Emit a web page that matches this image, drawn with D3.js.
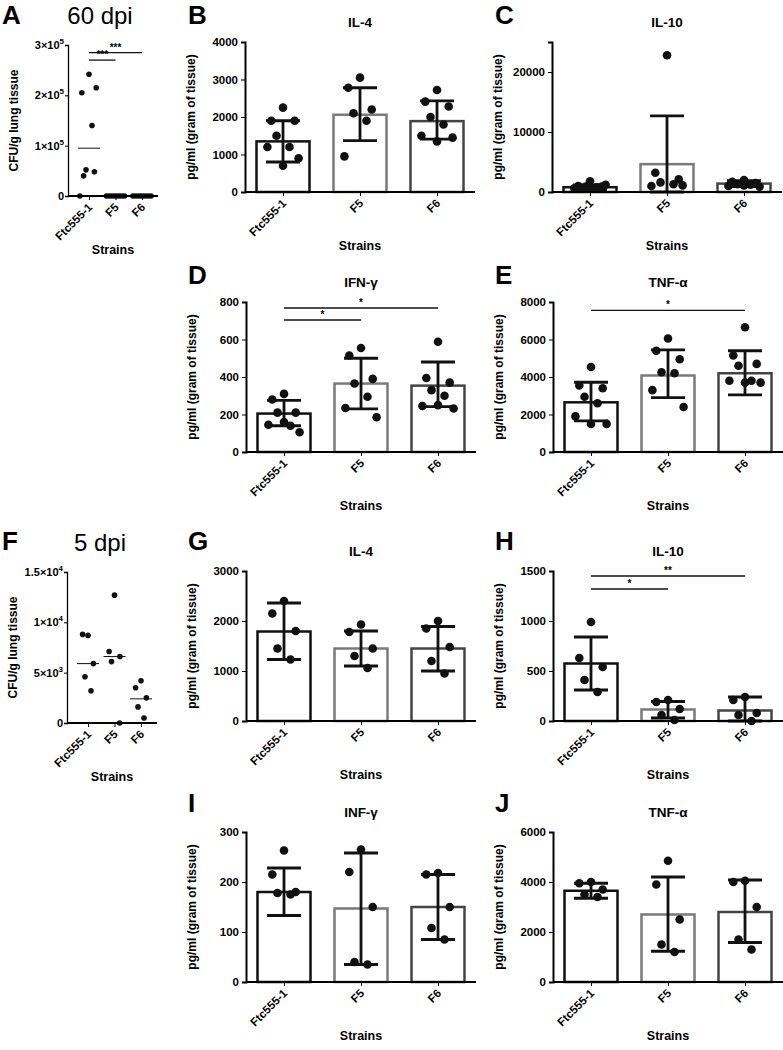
<!DOCTYPE html>
<html>
<head>
<meta charset="utf-8">
<script src="https://cdn.jsdelivr.net/npm/d3@7"></script>
<style>
  body { margin: 0; background: #fff; }
  text { font-family: "Liberation Sans", Arial, sans-serif; }
</style>
</head>
<body>
<div id="chart"></div>
<script>
const strains = ["Ftc555-1", "F5", "F6"];

// 60 dpi
const cfu60 = [
  [0, 40000, 48000, 52000, 140000, 205000, 215000, 242000],
  [0, 0, 0, 0, 0, 0, 0, 0],
  [0, 0, 0, 0, 0, 0, 0, 0]
];
const cfu60Line = [95000, 0, 0];
const il4_60 = [[2250, 1900, 1900, 1500, 1200, 1200, 900, 700], [3050, 2780, 2200, 2100, 1900, 950], [2720, 2410, 2280, 2000, 1800, 1500, 1450, 1350]];
const il4_60Mean = [1350, 2060, 1890];
const il4_60Sd = [[800, 1900], [1370, 2780], [1410, 2430]];
const il10_60 = [[1800, 1000, 900, 700, 800, 600, 1200, 700, 900], [22800, 3200, 2100, 1600, 1300, 1000, 1100], [2000, 1700, 1500, 1300, 1200, 1000, 900, 1100]];
const il10_60Mean = [800, 4640, 1400];
const il10_60Sd = [[400, 1200], [0, 12700], [900, 1900]];
const ifn_60 = [[310, 280, 210, 210, 140, 145, 105, 160], [555, 515, 390, 365, 295, 235, 185], [588, 395, 370, 330, 300, 245, 232, 250]];
const ifn_60Mean = [205, 365, 354];
const ifn_60Sd = [[140, 275], [230, 500], [242, 480]];
const tnf_60 = [[4530, 3550, 3400, 2950, 2600, 1900, 1500, 1500], [6050, 5400, 4950, 4250, 4200, 3300, 2400], [6650, 5150, 4700, 4600, 3800, 3800, 3700, 3700]];
const tnf_60Mean = [2650, 4080, 4200];
const tnf_60Sd = [[1660, 3720], [2900, 5450], [3050, 5400]];

// 5 dpi
const cfu5 = [[8700, 8800, 5900, 4600, 3200], [12700, 7100, 6600, 6100, 0], [4200, 3500, 2500, 1600, 500]];
const cfu5Line = [5900, 6600, 2400];
const il4_5 = [[2400, 2150, 1800, 1450, 1230], [1930, 1780, 1450, 1300, 1060], [2000, 1850, 1480, 1200, 950]];
const il4_5Mean = [1790, 1450, 1450];
const il4_5Sd = [[1230, 2360], [1100, 1800], [1000, 1890]];
const il10_5 = [[990, 630, 540, 410, 290], [210, 190, 120, 60, 10], [240, 210, 80, 60, 0]];
const il10_5Mean = [575, 115, 105];
const il10_5Sd = [[310, 840], [30, 195], [0, 240]];
const inf_5 = [[263, 215, 180, 178, 175], [265, 220, 150, 40, 35], [218, 215, 150, 108, 85]];
const inf_5Mean = [180, 147, 150];
const inf_5Sd = [[133, 228], [35, 258], [85, 215]];
const tnf_5 = [[4000, 3950, 3700, 3500, 3400], [4850, 3900, 2500, 1500, 1200], [4050, 4000, 3000, 1700, 1300]];
const tnf_5Mean = [3650, 2700, 2800];
const tnf_5Sd = [[3350, 3950], [1230, 4200], [1580, 4080]];

const svg = d3.select("#chart").append("svg").attr("width", 783).attr("height", 1050);
const strokes = ["#111", "#7a7a7a", "#444"];
const jit = [0, -9, 9, -5, 5, -12, 12, 0, -3];

function sup(t, base, exp) {
  if (exp == null) { t.text(base); return; }
  t.append("tspan").text(base);
  t.append("tspan").attr("dy", -5).style("font-size", "8px").text(exp);
}

function letter(x, y, s) {
  svg.append("text").attr("x", x).attr("y", y).style("font-size", "26px")
    .style("font-weight", "bold").text(s);
}

function frame(g, x, y, zeroY, yLabel, xEnd) {
  const ax = +g.attr("data-ax");
  g.append("g").attr("transform", `translate(0,${zeroY})`)
    .call(d3.axisBottom(x).tickSize(4).tickFormat(""))
    .call(a => a.select(".domain").attr("d", `M${ax},0H${xEnd}`).attr("stroke-width", 2));
  g.append("text").attr("text-anchor", "middle")
    .attr("transform", `translate(${ax - 50},${(zeroY + y.range()[1]) / 2}) rotate(-90)`)
    .style("font-size", "12px").style("font-weight", "bold").text(yLabel);
  strains.forEach(s => {
    g.append("text").attr("text-anchor", "end")
      .attr("transform", `translate(${x(s) + 4},${zeroY + 12}) rotate(-45)`)
      .style("font-size", "11.5px").style("font-weight", "bold").text(s);
  });
  g.append("text").attr("x", (ax + xEnd) / 2).attr("y", zeroY + 58)
    .attr("text-anchor", "middle").style("font-size", "12.5px").style("font-weight", "bold").text("Strains");
}

function sig(g, x, y, a, b, v, label) {
  g.append("line").attr("x1", x(strains[a])).attr("x2", x(strains[b]))
    .attr("y1", y(v)).attr("y2", y(v)).attr("stroke", "#111").attr("stroke-width", 1.3);
  g.append("text").attr("x", (x(strains[a]) + x(strains[b])) / 2).attr("y", y(v) - 2)
    .attr("text-anchor", "middle").style("font-size", "10px").style("font-weight", "bold").text(label);
}

function barPanel(ax, zeroY, title, max, step, pts, means, sds, sigs) {
  const g = svg.append("g").attr("data-ax", ax);
  const y = d3.scaleLinear().domain([0, max]).range([zeroY, zeroY - 150]);
  const x = d3.scalePoint().domain(strains).range([ax + 38, ax + 192]);
  g.append("text").attr("x", ax + 115).attr("y", zeroY - 165).attr("text-anchor", "middle")
    .style("font-size", "13.5px").style("font-weight", "bold").text(title);
  const bw = 53;
  strains.forEach((s, i) => {
    g.append("rect").attr("x", x(s) - bw / 2).attr("y", y(means[i]))
      .attr("width", bw).attr("height", zeroY - y(means[i]))
      .attr("fill", "#fff").attr("stroke", strokes[i]).attr("stroke-width", 2.5);
  });
  strains.forEach((s, i) => {
    pts[i].forEach((v, j) => {
      g.append("circle").attr("cx", x(s) + jit[j] * 1.3).attr("cy", y(v)).attr("r", 4.3).attr("fill", "#111");
    });
    const [lo, hi] = sds[i];
    g.append("line").attr("x1", x(s)).attr("x2", x(s)).attr("y1", y(lo)).attr("y2", y(hi))
      .attr("stroke", "#111").attr("stroke-width", 2.8);
    [lo, hi].forEach(v => g.append("line").attr("x1", x(s) - 17).attr("x2", x(s) + 17)
      .attr("y1", y(v)).attr("y2", y(v)).attr("stroke", "#111").attr("stroke-width", 2.8));
  });
  g.append("g").attr("transform", `translate(${ax},0)`)
    .call(d3.axisLeft(y).ticks(max / step).tickSize(4).tickFormat(d3.format("d")))
    .call(a => a.select(".domain").attr("stroke-width", 2))
    .call(a => a.selectAll("text").style("font-size", "11.5px").style("font-weight", "bold"));
  frame(g, x, y, zeroY, "pg/ml (gram of tissue)", ax + 230);
  (sigs || []).forEach(s => sig(g, x, y, s[0], s[1], s[2], s[3]));
}

function dotPanel(ax, zeroY, title, max, ticks, pts, lines, sigs) {
  const g = svg.append("g").attr("data-ax", ax);
  const y = d3.scaleLinear().domain([0, max]).range([zeroY, zeroY - 151]);
  const x = d3.scalePoint().domain(strains).range([ax + 21, ax + 74]);
  svg.append("text").attr("x", 100).attr("y", zeroY - 172).attr("text-anchor", "middle")
    .style("font-size", "24px").text(title);
  strains.forEach((s, i) => {
    pts[i].forEach((v, j) => {
      const off = v === 0 ? (j - (pts[i].length - 1) / 2) * 2.6 : jit[j] * 0.6;
      g.append("circle").attr("cx", x(s) + off).attr("cy", y(v)).attr("r", 2.8).attr("fill", "#111");
    });
    g.append("line").attr("x1", x(s) - 11).attr("x2", x(s) + 11)
      .attr("y1", y(lines[i])).attr("y2", y(lines[i])).attr("stroke", "#111").attr("stroke-width", 1);
  });
  const ya = g.append("g").attr("transform", `translate(${ax},0)`)
    .call(d3.axisLeft(y).tickValues(ticks.map(t => t[0])).tickSize(3).tickFormat(""))
    .call(a => a.select(".domain").attr("stroke-width", 1.3));
  ticks.forEach(t => {
    const tx = g.append("text").attr("x", ax - 4).attr("y", y(t[0]) + 4).attr("text-anchor", "end")
      .style("font-size", "11px").style("font-weight", "bold");
    sup(tx, t[1], t[2]);
  });
  frame(g, x, y, zeroY, "CFU/g lung tissue", ax + 90);
  (sigs || []).forEach(s => sig(g, x, y, s[0], s[1], s[2], s[3]));
}

// 60 dpi
letter(2, 24, "A"); letter(188, 24, "B"); letter(495, 24, "C");
dotPanel(68, 196, "60 dpi", 300000, [[0, "0"], [100000, "1×10", "5"], [200000, "2×10", "5"], [300000, "3×10", "5"]],
  cfu60, cfu60Line, [[0, 1, 270000, "***"], [0, 2, 285000, "***"]]);
barPanel(245, 192, "IL-4", 4000, 1000, il4_60, il4_60Mean, il4_60Sd);
barPanel(552, 192, "IL-10", 25000, 10000, il10_60, il10_60Mean, il10_60Sd);
letter(188, 284, "D"); letter(495, 284, "E");
barPanel(246, 452, "IFN-γ", 800, 200, ifn_60, ifn_60Mean, ifn_60Sd, [[0, 1, 704, "*"], [0, 2, 768, "*"]]);
barPanel(553, 452, "TNF-α", 8000, 2000, tnf_60, tnf_60Mean, tnf_60Sd, [[0, 2, 7550, "*"]]);

// 5 dpi
letter(2, 550, "F"); letter(188, 550, "G"); letter(495, 550, "H");
dotPanel(67, 723, "5 dpi", 15000, [[0, "0"], [5000, "5×10", "3"], [10000, "1×10", "4"], [15000, "1.5×10", "4"]],
  cfu5, cfu5Line);
barPanel(246, 721, "IL-4", 3000, 1000, il4_5, il4_5Mean, il4_5Sd);
barPanel(553, 721, "IL-10", 1500, 500, il10_5, il10_5Mean, il10_5Sd, [[0, 1, 1320, "*"], [0, 2, 1450, "**"]]);
letter(188, 812, "I"); letter(495, 812, "J");
barPanel(246, 982, "INF-γ", 300, 100, inf_5, inf_5Mean, inf_5Sd);
barPanel(553, 982, "TNF-α", 6000, 2000, tnf_5, tnf_5Mean, tnf_5Sd);
</script>
</body>
</html>
